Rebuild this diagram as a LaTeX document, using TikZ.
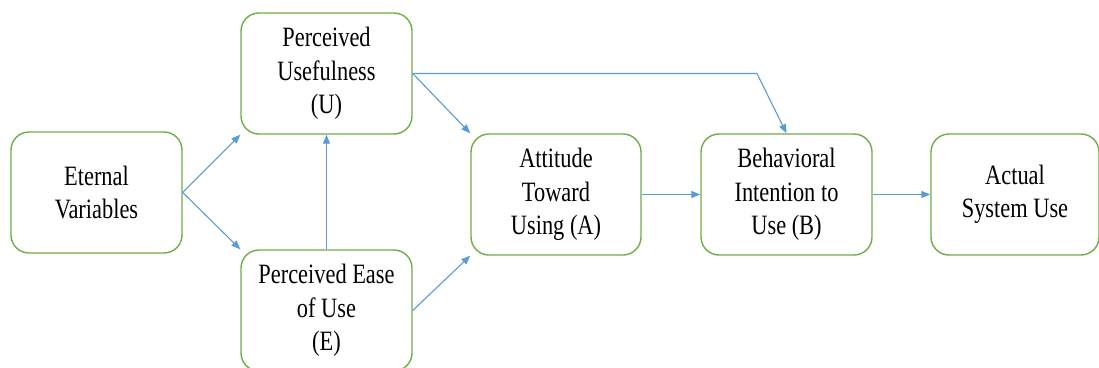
\documentclass[tikz,border=0pt]{standalone}
\usepackage{fontspec}
\setmainfont[FakeStretch=0.8]{Liberation Serif}
\usetikzlibrary{arrows.meta}
\definecolor{boxgreen}{RGB}{112,173,71}
\definecolor{arrblue}{RGB}{91,155,213}
\begin{document}
\begin{tikzpicture}[x=1pt,y=-1pt,
  box/.style={draw=boxgreen,line width=1.4pt,rounded corners=18pt,fill=white,
    minimum width=171pt,minimum height=121pt,align=center,inner sep=0pt,
    font=\fontsize{28}{33.5}\selectfont},
  arr/.style={draw=arrblue,line width=1.1pt,-{Triangle[length=9pt,width=7pt]}}]
\useasboundingbox (0,0) rectangle (1099,367);
\node[box] (ev) at (96.5,192.5) {Eternal\\Variables};
\node[box] (pu) at (326.5,73.5) {Perceived\\Usefulness\\(U)};
\node[box] (pe) at (326.5,310.5) {Perceived Ease\\of Use\\(E)};
\node[box,minimum width=170pt] (att) at (556,194.5) {Attitude\\Toward\\Using (A)};
\node[box] (beh) at (786.5,194.5) {Behavioral\\Intention to\\Use (B)};
\node[box,minimum width=168pt] (act) at (1015,194.5) {Actual\\System Use};
\coordinate (bend) at (757,73.5);
\draw[arr] (ev.east) -- (pu.south west);
\draw[arr] (ev.east) -- (pe.north west);
\draw[arr] (pe.north) -- (pu.south);
\draw[arr] (pu.east) -- (att.north west);
\draw[arr] (pu.east) -- (bend) -- (beh.north);
\draw[arr] (pe.east) -- (att.south west);
\draw[arr] (att.east) -- (beh.west);
\draw[arr] (beh.east) -- (act.west);
\end{tikzpicture}
\end{document}
